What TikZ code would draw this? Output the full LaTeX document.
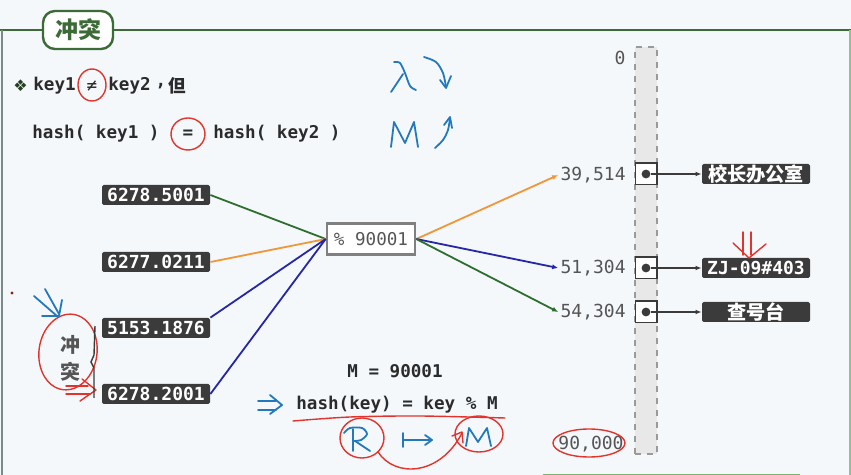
\documentclass[tikz,border=0pt]{standalone}
\usepackage{fontspec}
\setmonofont{DejaVu Sans Mono}
\newfontfamily\cjk{Noto Sans CJK SC}
\newfontfamily\djv{DejaVu Sans}
\usetikzlibrary{arrows.meta}
\definecolor{bg}{HTML}{F4F8FB}
\definecolor{tgreen}{HTML}{3C6B37}
\definecolor{boxdark}{HTML}{3B3B3B}
\definecolor{cgreen}{HTML}{2F6E2F}
\definecolor{corange}{HTML}{F2963A}
\definecolor{cblue}{HTML}{2626A6}
\definecolor{hred}{HTML}{E2342C}
\definecolor{hblue}{HTML}{2479BD}
\definecolor{txtc}{HTML}{2B2B2B}
\definecolor{idxc}{HTML}{555555}
\definecolor{barfill}{HTML}{E8E8E8}
\definecolor{bardash}{HTML}{9A9A9A}
\tikzset{
  keybox/.style={fill=boxdark, text=white, font=\ttfamily\bfseries\fontsize{9}{10}\selectfont,
    minimum width=54pt, minimum height=10pt, inner sep=0pt, rounded corners=0.8pt},
  valbox/.style={fill=boxdark, text=white, minimum width=54pt, minimum height=10pt,
    inner sep=0pt, rounded corners=0.8pt},
  modbox/.style={draw=gray, line width=1.3pt, fill=white, text=idxc,
    font=\ttfamily\fontsize{8.8}{10}\selectfont, minimum width=44pt, minimum height=15.5pt, inner sep=0pt},
  slot/.style={draw=boxdark, fill=white, line width=0.7pt, minimum size=10.8pt, inner sep=0pt},
  dot/.style={circle, fill=boxdark, inner sep=0pt, minimum size=4.4pt},
  idx/.style={text=idxc, font=\ttfamily\fontsize{9}{10}\selectfont, inner sep=1pt},
  txt/.style={text=txtc, font=\ttfamily\bfseries\fontsize{8.8}{10}\selectfont, inner sep=1pt},
  link/.style={line width=0.9pt},
  tip/.style={-{Latex[length=3pt,width=2.6pt]}},
  ptr/.style={draw=boxdark, line width=0.6pt, -{Latex[length=3pt,width=2.4pt]}},
  hr/.style={draw=hred, line width=0.7pt, line cap=round, line join=round},
  hb/.style={draw=hblue, line width=0.9pt, line cap=round, line join=round},
}
\begin{document}
\begin{tikzpicture}[x=0.5pt,y=-0.5pt]
\useasboundingbox (0,0) rectangle (851,475);
\fill[bg] (0,0) rectangle (851,475);
% frame
\draw[tgreen, line width=1pt] (0,30) -- (851,30);
\draw[color={rgb,255:red,120;green,138;blue,138}, line width=1pt] (1.5,30) -- (1.5,475);
\draw[color={rgb,255:red,140;green,196;blue,138}, line width=1pt] (849.5,30) -- (849.5,475);
\draw[color={rgb,255:red,120;green,180;blue,110}, line width=1pt] (543,474.5) -- (800,474.5);
\node[draw=tgreen, line width=1.2pt, fill=white, rounded corners=6pt, minimum width=35pt,
  minimum height=19pt, text=tgreen, inner sep=0pt, font=\cjk\bfseries\fontsize{11.5}{12}\selectfont] (title) at (78,30) {冲突};

% line 1
\node[txt, anchor=west, text=tgreen!60!black] (bullet) at (11,86) {\djv\fontsize{8}{9}\selectfont ❖};
\node[txt, anchor=west] (a1) at (31,86) {key1};
\node[txt, font=\ttfamily\fontsize{8.8}{10}\selectfont] (neq) at (92,86) {≠};
\node[txt, anchor=west] (a2) at (106,86) {key2};
\node[txt] (comma) at (161,86) {,};
\node[txt] (dan) at (177,86) {\cjk\bfseries 但};
% line 2
\node[txt, anchor=west] (b1) at (30,134) {hash( key1 )};
\node[txt] (eq) at (188,134) {=};
\node[txt, anchor=west] (b2) at (211,134) {hash( key2 )};

% keys
\node[keybox] (k1) at (156,195) {6278.5001};
\node[keybox] (k2) at (156,262) {6277.0211};
\node[keybox] (k3) at (156,328) {5153.1876};
\node[keybox] (k4) at (156,394) {6278.2001};
\node[modbox] (mod) at (371,239) {\% 90001};

\draw[link, cgreen] (k1.east) -- (mod.west);
\draw[link, corange] (k2.east) -- (mod.west);
\draw[link, cblue] (k3.north east) -- (mod.west);
\draw[link, cblue] (k4.east) -- (mod.west);

% bucket array
\node[draw=bardash, dashed, fill=barfill, line width=0.6pt, minimum width=11pt, minimum height=203.5pt, inner sep=0pt] (bar) at (646,250.5) {};
\node[idx] (zero) at (620,58) {0};
\node[idx] (end) at (591,444) {90,000};
\node[idx, anchor=east] (i1) at (628,175) {39,514};
\node[idx, anchor=east] (i2) at (628,268) {51,304};
\node[idx, anchor=east] (i3) at (628,312) {54,304};

\draw[link, corange, tip] (mod.east) -- (i1.west);
\draw[link, cblue, tip] (mod.east) -- (i2.west);
\draw[link, cgreen, tip] (mod.east) -- (i3.west);

\node[slot] (s1) at (646,174) {};
\node[slot] (s2) at (646,268) {};
\node[slot] (s3) at (646,312) {};
\node[dot] (d1) at (s1.center) {};
\node[dot] (d2) at (s2.center) {};
\node[dot] (d3) at (s3.center) {};
\node[valbox, font=\cjk\bfseries\fontsize{9.6}{11}\selectfont] (v1) at (756,174) {校长办公室};
\node[valbox, font=\ttfamily\bfseries\fontsize{9}{10}\selectfont] (v2) at (756,268) {ZJ-09\#403};
\node[valbox, font=\cjk\bfseries\fontsize{9.6}{11}\selectfont] (v3) at (756,312) {查号台};
\draw[ptr] (d1) -- (v1.west);
\draw[ptr] (d2) -- (v2.west);
\draw[ptr] (d3) -- (v3.west);

% bottom formula
\node[txt] (m) at (395,371) {M = 90001};
\node[txt] (h) at (397,405) {hash(key) = key \% M};

% left side annotation text
\node[text=idxc, inner sep=0pt, font=\cjk\bfseries\fontsize{10}{11}\selectfont] (c1) at (70,345) {冲};
\node[text=idxc, inner sep=0pt, font=\cjk\bfseries\fontsize{10}{11}\selectfont] (c2) at (70,372) {突};

% ---- handwritten marks ----
% red circles
\draw[hr] (92,85) ellipse [x radius=7pt, y radius=8pt];
\draw[hr] (188,134) ellipse [x radius=8.5pt, y radius=8pt];
\draw[hr, rotate around={-8:(68,352)}] (68,352) ellipse [x radius=14.5pt, y radius=19pt];
\draw[hr] (589,443) ellipse [x radius=18pt, y radius=7pt];
\draw[hr] (362,438) ellipse [x radius=11pt, y radius=10pt];
\draw[hr] (479,434) ellipse [x radius=12pt, y radius=9pt];
% red underline and curve
\draw[hr] plot[smooth] coordinates {(293,421) (350,417) (420,416) (505,418)};
\draw[hr] (378,452) .. controls (395,478) and (440,476) .. (462,433);
\draw[hr] (452,436) -- (462,432) -- (463,443);
% red double arrow at left
\draw[hr] (66,386) -- (88,386);
\draw[hr] (66,394) -- (90,394);
\draw[hr] (82,379) -- (96,390) -- (80,401);
% red down double arrow above ZJ
\draw[hr] (743,232) -- (743,255);
\draw[hr] (751,232) -- (751,255);
\draw[hr] (733,243) -- (749,258) -- (766,244);
% black bracket
\draw[boxdark, line width=0.7pt] (95,326) -- (94,355) -- (91,362) -- (94,368) -- (94,398);
% small dot
\fill[hred!60!black] (12,293) circle (0.8pt);
% blue: lambda and arrow
\draw[hb] plot[smooth] coordinates {(394,62) (400,63) (405,73) (410,86) (416,90)};
\draw[hb] (403,74) -- (391,92);
\draw[hb] plot[smooth] coordinates {(424,57) (436,62) (443,73) (446,87)};
\draw[hb] (440,80) -- (446,88) -- (451,76);
% blue M and arrow
\draw[hb] (391,147) -- (394,122) -- (405,143) -- (414,122) -- (418,147);
\draw[hb] plot[smooth] coordinates {(435,148) (443,140) (448,130) (450,118)};
\draw[hb] (444,125) -- (450,117) -- (452,128);
% blue arrows near left
\draw[hb] (34,296) -- (57,316);
\draw[hb] (45,289) -- (59,314);
\draw[hb] (62,300) -- (59,316) -- (42,316);
% blue double arrow before hash
\draw[hb] (258,401) -- (276,401);
\draw[hb] (258,410) -- (276,410);
\draw[hb] (270,395) -- (282,405) -- (270,414);
% blue R
\draw[hb] plot[smooth] coordinates {(344,433) (350,428) (362,428) (367,434) (361,440) (353,441)};
\draw[hb] (353,429) -- (353,451);
\draw[hb] (355,441) -- (370,451);
% blue maps-to
\draw[hb] (403,433) -- (403,447);
\draw[hb] (403,440) -- (431,440);
\draw[hb] (425,435) -- (432,440) -- (425,445);
% blue M in circle
\draw[hb] (466,446) -- (469,428) -- (478,442) -- (487,428) -- (491,446);
\end{tikzpicture}
\end{document}
